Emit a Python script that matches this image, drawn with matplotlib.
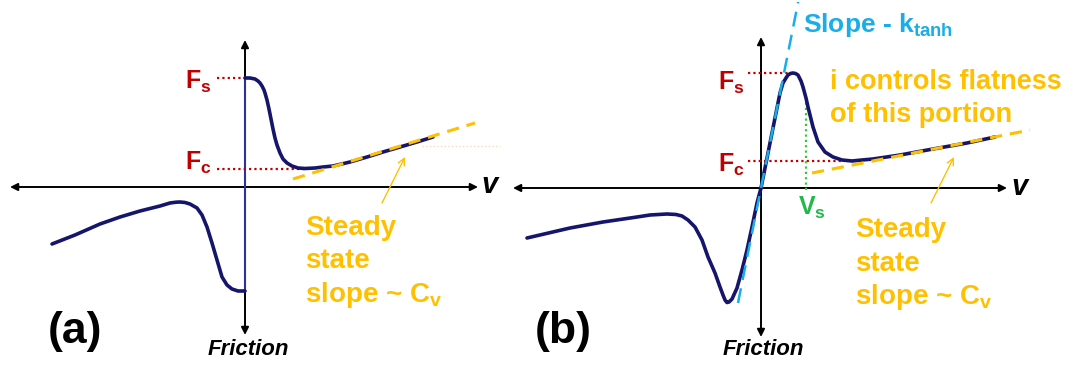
import matplotlib
matplotlib.use('Agg')
import matplotlib.pyplot as plt

plt.rcParams['font.family'] = ['Liberation Sans', 'DejaVu Sans']
plt.rcParams['mathtext.fontset'] = 'custom'
plt.rcParams['mathtext.rm'] = 'Liberation Sans:bold'
plt.rcParams['mathtext.bf'] = 'Liberation Sans:bold'
plt.rcParams['mathtext.it'] = 'Liberation Sans:bold:italic'

# ---- (a) discontinuous friction model ----
a_pos_v = [0.0, 0.05, 0.10, 0.13, 0.15, 0.17, 0.19, 0.20, 0.22, 0.24, 0.26,
           0.28, 0.30, 0.32, 0.35, 0.38, 0.42, 0.47, 0.53, 0.60, 0.70, 0.78,
           0.88, 1.05, 1.22, 1.38, 1.55, 1.72, 1.88]
a_pos_f = [1.09, 1.09, 1.08, 1.06, 1.04, 1.01, 0.97, 0.94, 0.87, 0.78, 0.68,
           0.58, 0.49, 0.42, 0.34, 0.28, 0.24, 0.21, 0.19, 0.185, 0.19, 0.20,
           0.21, 0.25, 0.30, 0.35, 0.40, 0.45, 0.50]
a_neg_v = [-1.93, -1.70, -1.45, -1.25, -1.05, -0.85, -0.75, -0.69, -0.65,
           -0.60, -0.55, -0.48, -0.43, -0.38, -0.33, -0.28, -0.23, -0.18,
           -0.13, -0.07, 0.0]
a_neg_f = [-0.57, -0.48, -0.37, -0.30, -0.24, -0.19, -0.16, -0.152, -0.15,
           -0.155, -0.17, -0.21, -0.28, -0.40, -0.56, -0.73, -0.90, -0.98,
           -1.02, -1.04, -1.04]
a_fs, a_fc = 1.09, 0.18
a_steady_v = [0.48, 2.30]
a_steady_f = [0.08, 0.64]

# ---- (b) continuous (tanh) friction model ----
b_pos_v = [0.0, 0.04, 0.08, 0.12, 0.16, 0.19, 0.22, 0.25, 0.27, 0.295, 0.32,
           0.345, 0.37, 0.40, 0.42, 0.45, 0.47, 0.50, 0.52, 0.57, 0.64, 0.72,
           0.81, 0.91, 1.01, 1.12, 1.39, 1.72, 2.06, 2.34]
b_pos_f = [0.0, 0.20, 0.40, 0.60, 0.80, 0.95, 1.05, 1.10, 1.13, 1.145, 1.15,
           1.145, 1.13, 1.07, 1.01, 0.90, 0.81, 0.69, 0.61, 0.46, 0.36, 0.31,
           0.28, 0.27, 0.28, 0.29, 0.33, 0.39, 0.45, 0.51]
b_neg_v = [-2.34, -1.91, -1.58, -1.24, -1.11, -0.94, -0.85, -0.79, -0.73,
           -0.66, -0.59, -0.53, -0.46, -0.41, -0.38, -0.36, -0.34, -0.32,
           -0.29, -0.24, -0.19, -0.14, -0.09, -0.04, 0.0]
b_neg_f = [-0.50, -0.40, -0.34, -0.29, -0.27, -0.26, -0.265, -0.28, -0.32,
           -0.39, -0.52, -0.69, -0.85, -0.99, -1.07, -1.12, -1.145, -1.14,
           -1.11, -1.00, -0.82, -0.62, -0.39, -0.15, 0.0]
b_fs, b_fc = 1.15, 0.27
b_vs = 0.45
b_vs_top = 0.88
b_tanh_v = [-0.23, 0.372]
b_tanh_f = [-1.15, 1.86]
b_steady_v = [0.51, 2.69]
b_steady_f = [0.15, 0.58]

NAVY = '#15156c'
GOLD = '#FFC000'
RED = '#C00000'
CYAN = '#1AAEE6'
GREEN = '#22B84A'

fig = plt.figure(figsize=(10.75, 3.65), dpi=100)
ax_a = fig.add_axes([0, 0, 505 / 1075, 1])
ax_b = fig.add_axes([505 / 1075, 0, 570 / 1075, 1])
ax_a.set_xlim(-2.45, 2.60)
ax_a.set_ylim(-1.78, 1.87)
ax_b.set_xlim(-2.56, 3.14)
ax_b.set_ylim(-1.77, 1.88)
for ax in (ax_a, ax_b):
    ax.axis('off')


def axes_arrows(ax, x0, x1, y0, y1):
    arr = dict(arrowstyle='<|-|>', color='black', lw=1.4, mutation_scale=11,
               shrinkA=0, shrinkB=0)
    ax.annotate('', xy=(x1, 0), xytext=(x0, 0), arrowprops=arr, zorder=1)
    ax.annotate('', xy=(0, y1), xytext=(0, y0), arrowprops=arr, zorder=1)


def dotted(ax, xs, ys, color):
    ax.plot(xs, ys, color=color, lw=1.6, ls=(0, (1, 1.4)), zorder=2)


def curve(ax, xs, ys):
    ax.plot(xs, ys, color=NAVY, lw=2.6, solid_joinstyle='round',
            solid_capstyle='round', zorder=3)


def steady_text(ax, x, baselines, head, tail):
    lines = ['Steady', 'state', r'slope ~ C$_\mathrm{v}$']
    for s, y in zip(lines, baselines):
        ax.text(x, y, s, color=GOLD, fontsize=20, fontweight='bold',
                ha='left', va='baseline')
    ax.annotate('', xy=head, xytext=tail,
                arrowprops=dict(arrowstyle='->', color=GOLD, lw=1.0,
                                mutation_scale=12, shrinkA=0, shrinkB=0))


# panel (a)
axes_arrows(ax_a, -2.35, 2.33, -1.48, 1.47)
ax_a.plot([0, 0], [a_pos_f[0], a_neg_f[-1]], color='#2f2fa0', lw=1.5, zorder=2)
dotted(ax_a, [-0.28, 0], [a_fs, a_fs], RED)
dotted(ax_a, [-0.28, 0.60], [a_fc, a_fc], RED)
ax_a.plot([1.77, 2.55], [0.41, 0.41], color='#f6dcc0', lw=1, ls=':', zorder=1)
curve(ax_a, a_pos_v, a_pos_f)
curve(ax_a, a_neg_v, a_neg_f)
ax_a.plot(a_steady_v, a_steady_f, color=GOLD, lw=2.2, ls=(0, (4, 2.6)), zorder=4)
ax_a.text(-0.60, 0.98, r'F$_\mathrm{s}$', color=RED, fontsize=18,
          fontweight='bold', ha='left', va='baseline')
ax_a.text(-0.60, 0.17, r'F$_\mathrm{c}$', color=RED, fontsize=18,
          fontweight='bold', ha='left', va='baseline')
ax_a.text(2.45, -0.06, 'v', fontsize=21, fontweight='bold', style='italic',
          ha='center', va='baseline')
ax_a.text(0.03, -1.68, 'Friction', fontsize=16, fontweight='bold',
          style='italic', ha='center', va='baseline')
ax_a.text(-1.97, -1.56, '(a)', fontsize=32, fontweight='bold',
          ha='left', va='baseline')
steady_text(ax_a, 0.60, [-0.48, -0.81, -1.15], (1.60, 0.30), (1.37, -0.16))

# panel (b)
axes_arrows(ax_b, -2.48, 2.46, -1.49, 1.51)
dotted(ax_b, [-0.13, 0.32], [b_fs, b_fs], RED)
dotted(ax_b, [-0.13, 0.82], [b_fc, b_fc], RED)
dotted(ax_b, [b_vs, b_vs], [-0.02, b_vs_top], '#33cc33')
curve(ax_b, b_pos_v, b_pos_f)
curve(ax_b, b_neg_v, b_neg_f)
ax_b.plot(b_tanh_v, b_tanh_f, color=CYAN, lw=1.8, ls=(0, (6, 3.4)), zorder=4)
ax_b.plot(b_steady_v, b_steady_f, color=GOLD, lw=2.2, ls=(0, (4, 2.6)), zorder=4)
ax_b.text(-0.43, 0.98, r'F$_\mathrm{s}$', color=RED, fontsize=18,
          fontweight='bold', ha='left', va='baseline')
ax_b.text(-0.43, 0.16, r'F$_\mathrm{c}$', color=RED, fontsize=18,
          fontweight='bold', ha='left', va='baseline')
ax_b.text(0.37, -0.27, r'V$_\mathrm{s}$', color=GREEN, fontsize=18,
          fontweight='bold', ha='left', va='baseline')
ax_b.text(0.42, 1.56, r'Slope - k$_\mathrm{tanh}$', color=CYAN, fontsize=19,
          fontweight='bold', ha='left', va='baseline')
ax_b.text(0.69, 0.99, 'i controls flatness', color=GOLD, fontsize=19.5,
          fontweight='bold', ha='left', va='baseline')
ax_b.text(0.69, 0.66, 'of this portion', color=GOLD, fontsize=19.5,
          fontweight='bold', ha='left', va='baseline')
ax_b.text(2.59, -0.07, 'v', fontsize=21, fontweight='bold', style='italic',
          ha='center', va='baseline')
ax_b.text(0.02, -1.67, 'Friction', fontsize=16, fontweight='bold',
          style='italic', ha='center', va='baseline')
ax_b.text(-2.26, -1.55, '(b)', fontsize=32, fontweight='bold',
          ha='left', va='baseline')
steady_text(ax_b, 0.94, [-0.49, -0.83, -1.16], (1.93, 0.31), (1.70, -0.15))

fig.savefig('out.png', dpi=100)
